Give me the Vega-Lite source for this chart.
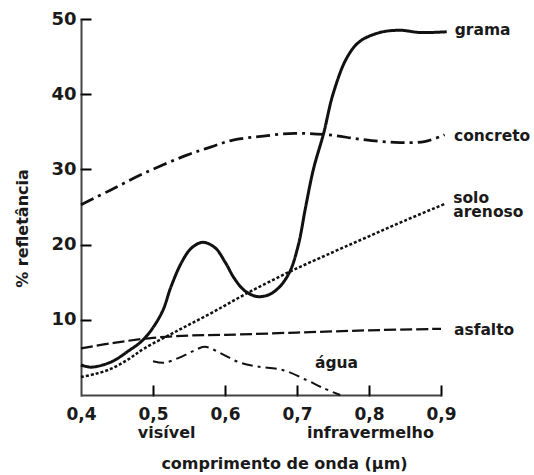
{
  "$schema": "https://vega.github.io/schema/vega-lite/v6.json",
  "width": 360,
  "height": 376,
  "autosize": {"type": "none"},
  "padding": {"left": 81, "top": 19, "right": 93, "bottom": 80},
  "background": "white",
  "config": {
    "view": {"stroke": null},
    "font": "DejaVu Sans",
    "axis": {
      "labelFont": "DejaVu Sans",
      "labelFontWeight": "bold",
      "labelColor": "#1a1a1a",
      "titleFont": "DejaVu Sans",
      "titleFontWeight": "bold",
      "titleFontSize": 16,
      "titleColor": "#1a1a1a",
      "domainColor": "#444",
      "domainWidth": 2,
      "grid": false,
      "labelFlush": false,
      "labelOverlap": false
    }
  },
  "resolve": {"axis": {"x": "independent", "y": "independent"}},
  "datasets": {
    "curves": [
      {"serie": "grama", "x": 0.400, "y": 4.0},
      {"serie": "grama", "x": 0.414, "y": 3.7},
      {"serie": "grama", "x": 0.442, "y": 4.4},
      {"serie": "grama", "x": 0.465, "y": 5.8},
      {"serie": "grama", "x": 0.488, "y": 7.5},
      {"serie": "grama", "x": 0.512, "y": 10.9},
      {"serie": "grama", "x": 0.525, "y": 14.4},
      {"serie": "grama", "x": 0.539, "y": 17.5},
      {"serie": "grama", "x": 0.553, "y": 19.5},
      {"serie": "grama", "x": 0.569, "y": 20.3},
      {"serie": "grama", "x": 0.586, "y": 19.6},
      {"serie": "grama", "x": 0.600, "y": 17.7},
      {"serie": "grama", "x": 0.613, "y": 15.5},
      {"serie": "grama", "x": 0.627, "y": 13.9},
      {"serie": "grama", "x": 0.644, "y": 13.1},
      {"serie": "grama", "x": 0.660, "y": 13.3},
      {"serie": "grama", "x": 0.675, "y": 14.3},
      {"serie": "grama", "x": 0.690, "y": 16.4},
      {"serie": "grama", "x": 0.702, "y": 20.0},
      {"serie": "grama", "x": 0.712, "y": 25.0},
      {"serie": "grama", "x": 0.723, "y": 30.1},
      {"serie": "grama", "x": 0.737, "y": 34.8},
      {"serie": "grama", "x": 0.750, "y": 40.0},
      {"serie": "grama", "x": 0.769, "y": 44.8},
      {"serie": "grama", "x": 0.787, "y": 47.0},
      {"serie": "grama", "x": 0.815, "y": 48.2},
      {"serie": "grama", "x": 0.843, "y": 48.5},
      {"serie": "grama", "x": 0.871, "y": 48.2},
      {"serie": "grama", "x": 0.908, "y": 48.3},
      {"serie": "concreto", "x": 0.400, "y": 25.3},
      {"serie": "concreto", "x": 0.440, "y": 27.2},
      {"serie": "concreto", "x": 0.488, "y": 29.5},
      {"serie": "concreto", "x": 0.547, "y": 31.9},
      {"serie": "concreto", "x": 0.581, "y": 33.0},
      {"serie": "concreto", "x": 0.611, "y": 33.9},
      {"serie": "concreto", "x": 0.650, "y": 34.4},
      {"serie": "concreto", "x": 0.697, "y": 34.8},
      {"serie": "concreto", "x": 0.743, "y": 34.6},
      {"serie": "concreto", "x": 0.789, "y": 34.0},
      {"serie": "concreto", "x": 0.836, "y": 33.6},
      {"serie": "concreto", "x": 0.877, "y": 33.7},
      {"serie": "concreto", "x": 0.905, "y": 34.6},
      {"serie": "solo", "x": 0.400, "y": 2.4},
      {"serie": "solo", "x": 0.420, "y": 2.8},
      {"serie": "solo", "x": 0.442, "y": 3.5},
      {"serie": "solo", "x": 0.465, "y": 4.7},
      {"serie": "solo", "x": 0.488, "y": 6.2},
      {"serie": "solo", "x": 0.535, "y": 8.6},
      {"serie": "solo", "x": 0.581, "y": 10.9},
      {"serie": "solo", "x": 0.630, "y": 13.5},
      {"serie": "solo", "x": 0.690, "y": 16.4},
      {"serie": "solo", "x": 0.750, "y": 19.0},
      {"serie": "solo", "x": 0.800, "y": 21.1},
      {"serie": "solo", "x": 0.850, "y": 23.2},
      {"serie": "solo", "x": 0.905, "y": 25.4},
      {"serie": "asfalto", "x": 0.400, "y": 6.2},
      {"serie": "asfalto", "x": 0.450, "y": 7.0},
      {"serie": "asfalto", "x": 0.500, "y": 7.6},
      {"serie": "asfalto", "x": 0.550, "y": 7.9},
      {"serie": "asfalto", "x": 0.600, "y": 8.0},
      {"serie": "asfalto", "x": 0.700, "y": 8.3},
      {"serie": "asfalto", "x": 0.800, "y": 8.6},
      {"serie": "asfalto", "x": 0.900, "y": 8.8},
      {"serie": "agua", "x": 0.500, "y": 4.5},
      {"serie": "agua", "x": 0.516, "y": 4.3},
      {"serie": "agua", "x": 0.535, "y": 4.9},
      {"serie": "agua", "x": 0.555, "y": 5.8},
      {"serie": "agua", "x": 0.572, "y": 6.4},
      {"serie": "agua", "x": 0.595, "y": 5.5},
      {"serie": "agua", "x": 0.618, "y": 4.4},
      {"serie": "agua", "x": 0.644, "y": 3.8},
      {"serie": "agua", "x": 0.681, "y": 3.3},
      {"serie": "agua", "x": 0.713, "y": 2.0},
      {"serie": "agua", "x": 0.737, "y": 0.9},
      {"serie": "agua", "x": 0.760, "y": 0.0}
    ],
    "seriesLabels": [
      {"label": ["grama"], "x": 0.919, "y": 47.9},
      {"label": ["concreto"], "x": 0.918, "y": 33.8},
      {"label": ["solo", "arenoso"], "x": 0.917, "y": 25.5},
      {"label": ["asfalto"], "x": 0.918, "y": 8.0},
      {"label": ["água"], "x": 0.725, "y": 3.6}
    ],
    "regionLabels": [
      {"label": "visível", "x": 0.519, "y": -5.7},
      {"label": "infravermelho", "x": 0.802, "y": -5.7}
    ]
  },
  "layer": [
    {
      "data": {"name": "curves"},
      "mark": {"type": "line", "interpolate": "catmull-rom", "color": "#111", "clip": false},
      "encoding": {
        "x": {
          "field": "x", "type": "quantitative",
          "scale": {"domain": [0.4, 0.9], "nice": false, "zero": false},
          "axis": {
            "orient": "bottom",
            "values": [0.4, 0.5, 0.6, 0.7, 0.8, 0.9],
            "labelExpr": "replace(format(datum.value, '.1f'), '.', ',')",
            "labelFontSize": 17,
            "ticks": true,
            "tickSize": 1,
            "tickWidth": 2,
            "tickColor": "black",
            "labelPadding": 10,
            "title": "comprimento de onda (µm)",
            "titleX": 203,
            "titleY": 73,
            "titleBaseline": "alphabetic",
            "titleAnchor": null
          }
        },
        "y": {
          "field": "y", "type": "quantitative",
          "scale": {"domain": [0, 50], "nice": false},
          "axis": {
            "orient": "left",
            "values": [10, 20, 30, 40, 50],
            "labelFontSize": 18,
            "ticks": true,
            "tickSize": 1,
            "tickWidth": 2,
            "tickColor": "black",
            "labelPadding": 4,
            "title": "% refletância",
            "titleX": -59,
            "titleY": 209,
            "titleAngle": -90,
            "titleAlign": "center",
            "titleBaseline": "middle"
          }
        },
        "detail": {"field": "serie"},
        "strokeDash": {
          "field": "serie", "type": "nominal", "legend": null,
          "scale": {
            "domain": ["grama", "concreto", "solo", "asfalto", "agua"],
            "range": [[1, 0], [14, 5, 3, 5], [3, 2], [12, 4], [11, 5, 3, 5]]
          }
        },
        "strokeWidth": {
          "field": "serie", "type": "nominal", "legend": null,
          "scale": {
            "domain": ["grama", "concreto", "solo", "asfalto", "agua"],
            "range": [3, 2, 2, 2, 2]
          }
        }
      }
    },
    {
      "data": {"name": "seriesLabels"},
      "mark": {"type": "text", "align": "left", "baseline": "alphabetic", "lineHeight": 14, "font": "DejaVu Sans", "fontWeight": "bold", "fontSize": 15.5, "color": "#1a1a1a", "clip": false},
      "encoding": {
        "x": {
          "field": "x", "type": "quantitative",
          "axis": {
            "orient": "top", "offset": -376,
            "values": [0.5, 0.6, 0.7, 0.8, 0.9],
            "labels": false, "domain": false, "title": null,
            "ticks": true, "tickSize": 10, "tickWidth": 2, "tickColor": "black"
          }
        },
        "y": {
          "field": "y", "type": "quantitative",
          "axis": {
            "orient": "right", "offset": -360,
            "values": [10, 20, 30, 40, 50],
            "labels": false, "domain": false, "title": null,
            "ticks": true, "tickSize": 10, "tickWidth": 2, "tickColor": "black"
          }
        },
        "text": {"field": "label"}
      }
    },
    {
      "data": {"name": "regionLabels"},
      "mark": {"type": "text", "align": "center", "baseline": "alphabetic", "font": "DejaVu Sans", "fontWeight": "bold", "fontSize": 16, "color": "#1a1a1a", "clip": false},
      "encoding": {
        "x": {"field": "x", "type": "quantitative", "axis": null},
        "y": {"field": "y", "type": "quantitative", "axis": null},
        "text": {"field": "label"}
      }
    }
  ]
}
